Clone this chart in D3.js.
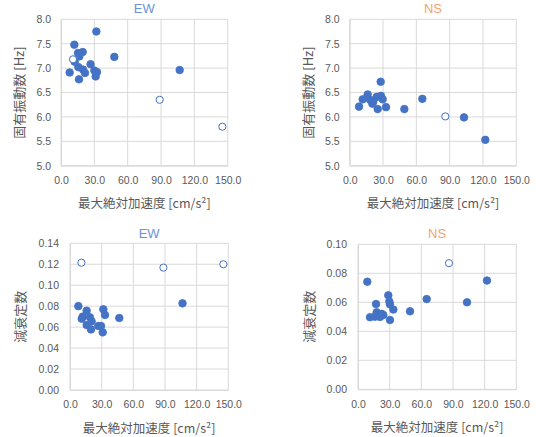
<!DOCTYPE html>
<html><head><meta charset="utf-8">
<script src="https://cdn.jsdelivr.net/npm/d3@7/dist/d3.min.js"></script>
<style>
body{margin:0;background:#fff;}
svg{display:block;}
text{font-family:"Liberation Sans","Noto Sans CJK JP",sans-serif;}
</style></head><body>
<svg id="c" width="536" height="437"></svg>
<script>
// ---- data ----
const xTicks = [0, 30, 60, 90, 120, 150];
const freqTicks = [5.0, 5.5, 6.0, 6.5, 7.0, 7.5, 8.0];
const ewDampTicks = [0, 0.02, 0.04, 0.06, 0.08, 0.10, 0.12, 0.14];
const nsDampTicks = [0, 0.02, 0.04, 0.06, 0.08, 0.10];

// EW natural frequency
const ewFreqX = [31.8, 12.0, 15.3, 19.5, 16.5, 12.3, 48.0, 26.6, 15.6, 19.8, 7.8, 21.6, 30.0, 32.4, 31.2, 16.2, 106.8];
const ewFreqY = [7.75, 7.48, 7.31, 7.33, 7.24, 7.13, 7.23, 7.08, 7.02, 6.97, 6.91, 6.90, 6.95, 6.92, 6.83, 6.77, 6.96];
const ewFreqOpenX = [10.8, 88.8, 145.2];
const ewFreqOpenY = [7.18, 6.35, 5.80];

// NS natural frequency
const nsFreqX = [27.9, 16.2, 11.7, 8.4, 18.3, 21.2, 24.3, 28.2, 29.7, 20.4, 25.2, 32.7, 49.2, 65.4, 102.9, 122.1];
const nsFreqY = [6.72, 6.46, 6.36, 6.21, 6.35, 6.31, 6.41, 6.43, 6.36, 6.27, 6.16, 6.20, 6.16, 6.37, 5.99, 5.53];
const nsFreqOpenX = [86.1];
const nsFreqOpenY = [6.01];

// EW damping
const ewDampX = [7.9, 15.8, 31.6, 33.2, 12.0, 11.1, 18.9, 20.5, 15.8, 19.9, 26.8, 29.4, 31.0, 46.7, 106.6];
const ewDampY = [0.080, 0.0757, 0.077, 0.0716, 0.070, 0.0680, 0.0694, 0.0655, 0.062, 0.0578, 0.0611, 0.0611, 0.0550, 0.0687, 0.0827];
const ewDampOpenX = [10.8, 88.5, 145.3];
const ewDampOpenY = [0.1215, 0.1168, 0.1200];

// NS damping
const nsDampX = [8.8, 122.2, 28.7, 17.1, 29.7, 30.3, 33.5, 17.7, 22.5, 11.4, 16.1, 20.8, 24.0, 30.3, 49.3, 65.1, 103.3];
const nsDampY = [0.0742, 0.0750, 0.0648, 0.0588, 0.0606, 0.0586, 0.0550, 0.0531, 0.0520, 0.0497, 0.0501, 0.0499, 0.0512, 0.0478, 0.0538, 0.0622, 0.0600];
const nsDampOpenX = [86.2];
const nsDampOpenY = [0.087];

const xTitle = "最大絶対加速度 [cm/s²]";
const freqTitle = "固有振動数 [Hz]";
const dampTitle = "減衰定数";

// ---- drawing ----
const svg = d3.select("#c");
const gridColor = "#d9d9d9";
const textColor = "#595959";
const markColor = "#4472c4";

function panel(opt) {
  const g = svg.append("g");
  const x = d3.scaleLinear().domain([0, 150]).range([opt.left, opt.right]);
  const y = d3.scaleLinear().domain(opt.yDomain).range([opt.bottom, opt.top]);
  // grid
  g.selectAll(".vg").data(xTicks).join("line")
    .attr("x1", d => x(d)).attr("x2", d => x(d))
    .attr("y1", opt.top).attr("y2", opt.bottom)
    .attr("stroke", gridColor).attr("stroke-width", 1);
  g.selectAll(".hg").data(opt.yTicks).join("line")
    .attr("x1", opt.left).attr("x2", opt.right)
    .attr("y1", d => y(d)).attr("y2", d => y(d))
    .attr("stroke", gridColor).attr("stroke-width", 1);
  // axes
  const xa = g.append("g").attr("transform", `translate(0,${opt.bottom})`)
    .call(d3.axisBottom(x).tickValues(xTicks).tickFormat(d3.format(".1f")).tickSize(0).tickPadding(11));
  xa.select(".domain").attr("stroke", gridColor);
  xa.selectAll("text").attr("fill", textColor).style("font-size", "10.5px");
  const ya = g.append("g").attr("transform", `translate(${opt.left},0)`)
    .call(d3.axisLeft(y).tickValues(opt.yTicks).tickFormat(d3.format(opt.yFmt)).tickSize(0).tickPadding(opt.yPad));
  ya.select(".domain").attr("stroke", gridColor);
  ya.selectAll("text").attr("fill", textColor).style("font-size", "10.5px");
  // points
  const filled = opt.xs.map((d, i) => [d, opt.ys[i]]);
  const open = opt.oxs.map((d, i) => [d, opt.oys[i]]);
  g.selectAll(".pf").data(filled).join("circle")
    .attr("cx", d => x(d[0])).attr("cy", d => y(d[1])).attr("r", 3.8)
    .attr("fill", markColor).attr("stroke", markColor).attr("stroke-width", 0.8);
  g.selectAll(".po").data(open).join("circle")
    .attr("cx", d => x(d[0])).attr("cy", d => y(d[1])).attr("r", 3.6)
    .attr("fill", "#fff").attr("stroke", markColor).attr("stroke-width", 1);
  // titles
  g.append("text").attr("x", (opt.left + opt.right) / 2).attr("y", opt.titleY)
    .attr("text-anchor", "middle").attr("dominant-baseline", "central")
    .attr("fill", opt.titleColor).style("font-size", "13px").text(opt.title);
  g.append("text").attr("x", (opt.left + opt.right) / 2).attr("y", opt.bottom + 37)
    .attr("text-anchor", "middle").attr("dominant-baseline", "central")
    .attr("fill", textColor).style("font-size", "12.5px").style("font-family", "'Noto Sans CJK JP',sans-serif").text(xTitle);
  g.append("text").attr("transform", `translate(${opt.ytX},${(opt.top + opt.bottom) / 2}) rotate(-90)`)
    .attr("text-anchor", "middle").attr("dominant-baseline", "central")
    .attr("fill", textColor).style("font-size", "13px").style("font-family", "'Noto Sans CJK JP',sans-serif").text(opt.yTitle);
}

panel({left: 61, right: 227.7, top: 19.3, bottom: 165.7, yDomain: [5, 8], yTicks: freqTicks, yFmt: ".1f", yPad: 10,
  xs: ewFreqX, ys: ewFreqY, oxs: ewFreqOpenX, oys: ewFreqOpenY, title: "EW", titleColor: "#6a93d6", titleY: 8.5, yTitle: freqTitle, ytX: 18});
panel({left: 349.7, right: 516.3, top: 19.3, bottom: 165.7, yDomain: [5, 8], yTicks: freqTicks, yFmt: ".1f", yPad: 10,
  xs: nsFreqX, ys: nsFreqY, oxs: nsFreqOpenX, oys: nsFreqOpenY, title: "NS", titleColor: "#f4a26c", titleY: 8.5, yTitle: freqTitle, ytX: 307});
panel({left: 70, right: 228.3, top: 243.3, bottom: 390, yDomain: [0, 0.14], yTicks: ewDampTicks, yFmt: ".2f", yPad: 11,
  xs: ewDampX, ys: ewDampY, oxs: ewDampOpenX, oys: ewDampOpenY, title: "EW", titleColor: "#6a93d6", titleY: 233.3, yTitle: dampTitle, ytX: 19.5});
panel({left: 358, right: 516.3, top: 244.3, bottom: 389.3, yDomain: [0, 0.10], yTicks: nsDampTicks, yFmt: ".2f", yPad: 11,
  xs: nsDampX, ys: nsDampY, oxs: nsDampOpenX, oys: nsDampOpenY, title: "NS", titleColor: "#f4a26c", titleY: 233.3, yTitle: dampTitle, ytX: 308.5});
</script>
</body></html>
